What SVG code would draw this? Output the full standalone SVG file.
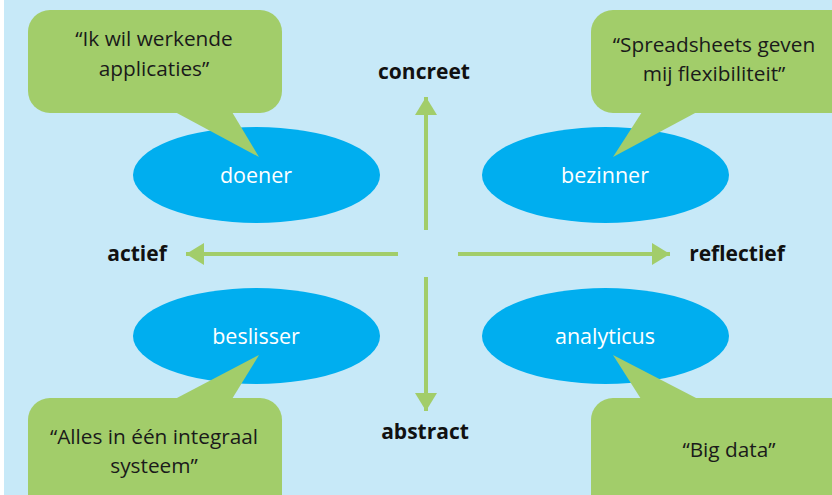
<svg xmlns="http://www.w3.org/2000/svg" width="832" height="495" viewBox="0 0 832 495">
<defs>
<style>
.bg{fill:#C7E9F8}
.bubble{fill:#A2CD6A}
.ell{fill:#00AEEF}
.qt{font-family:"Open Sans","Liberation Sans",sans-serif;font-size:20.8px;fill:#1a1a1a;text-anchor:middle}
.nm{font-family:"Open Sans","Liberation Sans",sans-serif;font-size:21.5px;fill:#ffffff;text-anchor:middle}
.ax{font-family:"Open Sans","Liberation Sans",sans-serif;font-size:21px;font-weight:bold;fill:#111111;text-anchor:middle}
.line{stroke:#A2CD6A;stroke-width:4;fill:none}
</style>
<marker id="ah" markerUnits="userSpaceOnUse" markerWidth="18" markerHeight="22" refX="18" refY="11" orient="auto">
<path d="M0,0 L18,11 L0,22 Z" fill="#A2CD6A"/>
</marker>
</defs>
<rect x="0" y="0" width="832" height="495" fill="#ffffff"/>
<rect class="bg" x="4" y="0" width="828" height="495"/>

<g id="connectors">
<line class="line" x1="426" y1="230" x2="426" y2="97" marker-end="url(#ah)"/>
<line class="line" x1="426" y1="277" x2="426" y2="411" marker-end="url(#ah)"/>
<line class="line" x1="398" y1="254" x2="186" y2="254" marker-end="url(#ah)"/>
<line class="line" x1="458" y1="254" x2="670" y2="254" marker-end="url(#ah)"/>
</g>

<g id="label-concreet"><text class="ax" x="424" y="79">concreet</text></g>
<g id="label-abstract"><text class="ax" x="425" y="439">abstract</text></g>
<g id="label-actief"><text class="ax" x="137" y="261">actief</text></g>
<g id="label-reflectief"><text class="ax" x="737" y="261">reflectief</text></g>

<g id="doener">
<ellipse class="ell" cx="256.5" cy="175" rx="123.5" ry="48"/>
<text class="nm" x="256" y="183">doener</text>
</g>
<g id="bezinner">
<ellipse class="ell" cx="605.5" cy="175" rx="123.5" ry="48"/>
<text class="nm" x="605" y="183">bezinner</text>
</g>
<g id="beslisser">
<ellipse class="ell" cx="256.5" cy="336" rx="123.5" ry="48"/>
<text class="nm" x="256" y="344">beslisser</text>
</g>
<g id="analyticus">
<ellipse class="ell" cx="605.5" cy="336" rx="123.5" ry="48"/>
<text class="nm" x="605" y="344">analyticus</text>
</g>

<g id="callout-doener">
<rect class="bubble" x="28" y="10" width="254" height="103" rx="22"/>
<path class="bubble" d="M175,112 L259,157 L232,112 Z"/>
<text class="qt" x="154" y="46">“Ik wil werkende</text>
<text class="qt" x="154" y="76">applicaties”</text>
</g>
<g id="callout-bezinner">
<rect class="bubble" x="591" y="10" width="262" height="103" rx="22"/>
<path class="bubble" d="M642,112 L613,157 L697,112 Z"/>
<text class="qt" x="714" y="52">“Spreadsheets geven</text>
<text class="qt" x="714" y="81">mij flexibiliteit”</text>
</g>
<g id="callout-beslisser">
<rect class="bubble" x="28" y="398" width="254" height="120" rx="22"/>
<path class="bubble" d="M175,399 L259,355 L232,399 Z"/>
<text class="qt" x="154" y="444">“Alles in één integraal</text>
<text class="qt" x="154" y="473">systeem”</text>
</g>
<g id="callout-analyticus">
<rect class="bubble" x="591" y="398" width="262" height="120" rx="22"/>
<path class="bubble" d="M641,399 L613,355 L698,399 Z"/>
<text class="qt" x="729" y="457">“Big data”</text>
</g>
</svg>
